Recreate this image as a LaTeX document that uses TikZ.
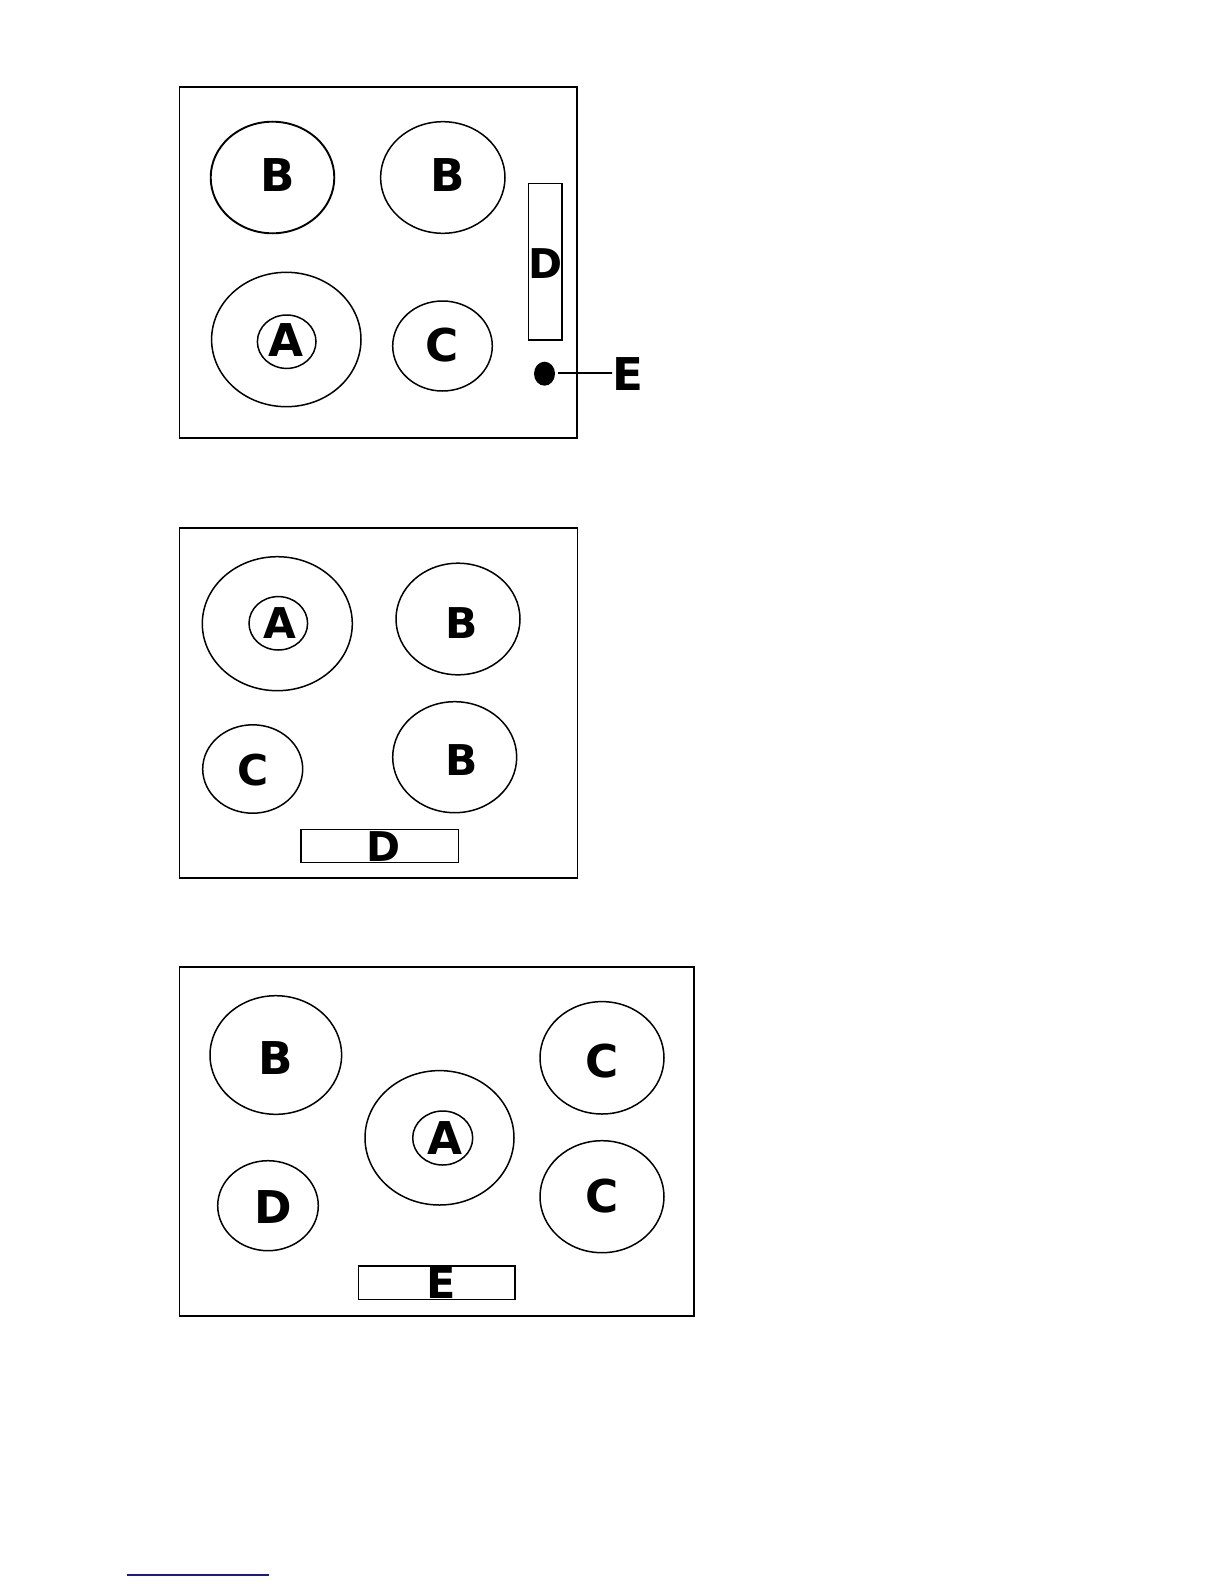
\documentclass[tikz,border=0pt]{standalone}
\usepackage{fontspec}
\setmainfont{DejaVu Sans}
\usetikzlibrary{shapes.geometric}
\begin{document}
\begin{tikzpicture}[x=0.5pt,y=-0.5pt,
  frame/.style={draw,line width=0.8pt},
  ell/.style={ellipse,draw,line width=0.75pt,inner sep=0pt},
  panel/.style={draw,line width=0.75pt},
  lab/.style={inner sep=0pt,font=\fontsize{22.6}{27}\selectfont\bfseries},
  midlab/.style={inner sep=0pt,font=\fontsize{21.2}{25}\selectfont\bfseries},
  smalllab/.style={inner sep=0pt,font=\fontsize{20.5}{24}\selectfont\bfseries}]
\useasboundingbox (0,0) rectangle (1224,1584);
\fill[white] (0,0) rectangle (1224,1584);

% ---------- Diagram 1 ----------
\draw[frame] (179.3,87.3) rectangle (576.7,437.7);
\node[ell,minimum width=61.8pt,minimum height=55.8pt,line width=0.95pt] (b11) at (272.5,177.5) {};
\node[lab] (b11l) at (277.8,175.3) {B};
\node[ell,minimum width=62.2pt,minimum height=55.8pt] (b12) at (442.8,177.5) {};
\node[lab] (b12l) at (448,175.3) {B};
\draw[panel] (528.3,183.3) rectangle (562,340);
\node[smalllab] (d1l) at (545.5,263.3) {D};
\node[ell,minimum width=74.7pt,minimum height=67.2pt] (a1o) at (286.3,339.5) {};
\node[ell,minimum width=29.3pt,minimum height=26.7pt] (a1i) at (286.7,341.7) {};
\node[lab] (a1l) at (286.3,339.7) {A};
\node[ell,minimum width=49.8pt,minimum height=45pt] (c1) at (442.5,346) {};
\node[lab] (c1l) at (442.2,345) {C};
\node[ellipse,fill=black,inner sep=0pt,minimum width=10.5pt,minimum height=12pt] (e1dot) at (544.5,373.7) {};
\node[lab] (e1l) at (628,374.2) {E};
\draw[line width=1pt] (558.3,372.7) -- (e1l.west |- 0,372.7) -- ++(-6,0) coordinate (e1end);

% ---------- Diagram 2 ----------
\draw[frame] (179.3,527.7) rectangle (577.3,877.7);
\node[ell,minimum width=75pt,minimum height=67pt] (a2o) at (277.3,623.7) {};
\node[ell,minimum width=29.3pt,minimum height=26.7pt] (a2i) at (278.3,623.3) {};
\node[midlab] (a2l) at (279.7,623.3) {A};
\node[ell,minimum width=62pt,minimum height=55.8pt] (b21) at (458,619) {};
\node[midlab] (b21l) at (461.7,623.3) {B};
\node[ell,minimum width=62pt,minimum height=55.5pt] (b22) at (454.7,757.2) {};
\node[midlab] (b22l) at (461.7,760) {B};
\node[ell,minimum width=50pt,minimum height=44.2pt] (c2) at (252.7,769) {};
\node[midlab] (c2l) at (252.8,770) {C};
\draw[panel] (301,829.3) rectangle (458.3,862.7);
\node[smalllab] (d2l) at (383.3,846.7) {D};

% ---------- Diagram 3 ----------
\draw[frame] (179.3,966.7) rectangle (694,1315.7);
\node[ell,minimum width=65.8pt,minimum height=59.3pt] (b3) at (275.8,1055) {};
\node[lab] (b3l) at (275.7,1057.7) {B};
\node[ell,minimum width=74.5pt,minimum height=67.2pt] (a3o) at (439.5,1137.8) {};
\node[ell,minimum width=30pt,minimum height=27pt] (a3i) at (442.7,1138) {};
\node[lab] (a3l) at (444.5,1138) {A};
\node[ell,minimum width=62pt,minimum height=56.2pt] (c31) at (602,1057.8) {};
\node[lab] (c31l) at (602,1061) {C};
\node[ell,minimum width=62pt,minimum height=56pt] (c32) at (602,1196.7) {};
\node[lab] (c32l) at (602,1196.2) {C};
\node[ell,minimum width=50.3pt,minimum height=45pt] (d3) at (268,1205.7) {};
\node[lab] (d3l) at (273.2,1207.2) {D};
\draw[panel] (358.3,1266) rectangle (515,1299.3);
\node[inner sep=0pt,font=\fontsize{21.5}{25}\selectfont\bfseries] (e3l) at (441.3,1283) {E};

% ---------- footer line ----------
\definecolor{linkblue}{RGB}{25,25,140}
\draw[linkblue,line width=0.8pt] (126.7,1575) -- (269,1575);
\end{tikzpicture}
\end{document}
